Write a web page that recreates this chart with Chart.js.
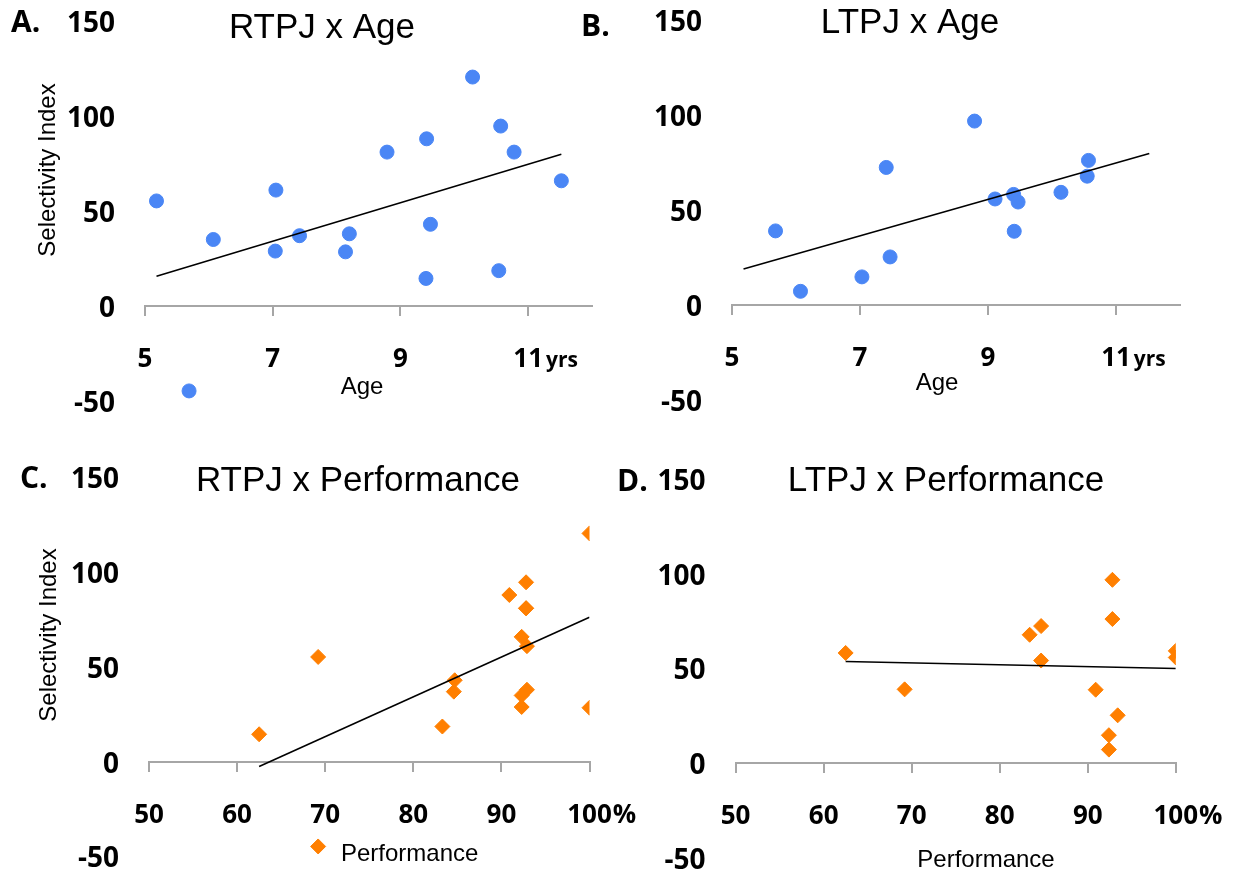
<!DOCTYPE html>
<html>
<head>
<meta charset="utf-8">
<title>TPJ selectivity by age and performance</title>
<script src="https://cdn.jsdelivr.net/npm/chart.js@4.4.1/dist/chart.umd.min.js"></script>
<style>
  html, body { margin: 0; background: #fff; }
  #wrap { position: relative; width: 1235px; height: 879px; overflow: hidden; }
  #wrap canvas { position: absolute; left: 0; top: 0; pointer-events: none; }
</style>
</head>
<body>
<div id="wrap">
  <canvas id="panel-a" width="1235" height="879"></canvas>
  <canvas id="panel-b" width="1235" height="879"></canvas>
  <canvas id="panel-c" width="1235" height="879"></canvas>
  <canvas id="panel-d" width="1235" height="879"></canvas>
</div>
<script>
// Right TPJ: one entry per child (age in years, task performance in %, selectivity index)
const rtpjAge  = [5.18, 6.07, 7.05, 7.04, 7.42, 8.20, 8.14, 8.79, 9.41, 9.47, 9.40, 10.13, 10.57, 10.78, 10.54, 11.52, 5.69];
const rtpjPerf = [69.2, 92.3, 92.9, 92.3, 84.6, 92.9, 100, 92.8, 90.9, 84.7, 62.5, 100, 92.8, 92.8, 83.3, 92.3, 69.2];
const rtpjSI   = [55.3, 35.0, 61.0, 28.9, 37.0, 38.0, 28.5, 81.0, 88.0, 43.0, 14.5, 120.5, 94.7, 81.0, 18.6, 65.9, -44.7];

// Left TPJ
const ltpjAge  = [5.68, 6.07, 7.03, 7.47, 7.41, 8.79, 9.11, 9.40, 9.47, 9.41, 10.14, 10.55, 10.57];
const ltpjPerf = [69.2, 92.4, 92.4, 93.4, 84.7, 92.8, 100, 62.5, 84.7, 90.9, 100, 83.4, 92.8];
const ltpjSI   = [39.0, 7.2, 14.8, 25.3, 72.4, 96.8, 55.8, 58.2, 54.2, 38.8, 59.3, 67.8, 76.1];

// axis ticks
const ageTicks  = [5, 7, 9, 11];
const perfTicks = [50, 60, 70, 80, 90, 100];
const siTicks   = [-50, 0, 50, 100, 150];

const BLUE = '#4a86f5';
const ORANGE = '#ff7f00';
const AXIS_GREY = '#a6a6a6';
const NUM_FONT = '"Open Sans", "Liberation Sans", sans-serif';
const TXT_FONT = '"Liberation Sans", Arial, sans-serif';

/**
 * Ordinary least squares fit, returns f(x).
 */
function linearFit(xs, ys) {
  const n = xs.length;
  const mx = xs.reduce((a, b) => a + b, 0) / n;
  const my = ys.reduce((a, b) => a + b, 0) / n;
  let sxy = 0, sxx = 0;
  for (let i = 0; i < n; i++) {
    sxy += (xs[i] - mx) * (ys[i] - my);
    sxx += (xs[i] - mx) * (xs[i] - mx);
  }
  const slope = sxy / sxx;
  return x => my + slope * (x - mx);
}

function toPoints(xs, ys) {
  return xs.map((x, i) => ({ x, y: ys[i] }));
}

// trend lines span the full range of x values across both hemispheres
const ageSpan  = [Math.min(...rtpjAge, ...ltpjAge), Math.max(...rtpjAge, ...ltpjAge)];
const perfSpan = [Math.min(...rtpjPerf, ...ltpjPerf), Math.max(...rtpjPerf, ...ltpjPerf)];

const panels = [
  {
    id: 'panel-a', letter: 'A.', title: 'RTPJ x Age', xs: rtpjAge, ys: rtpjSI, span: ageSpan,
    xTicks: ageTicks, xMin: 5, xMax: 12, suffix: 'yrs', color: BLUE, style: 'circle',
    area: { left: 145, right: 592, top: 21, bottom: 401 },
    letterPos: [11, 32], titlePos: [322, 38], yTitle: [48, 170], xTitle: { text: 'Age', x: 362, y: 394, align: 'center' }
  },
  {
    id: 'panel-b', letter: 'B.', title: 'LTPJ x Age', xs: ltpjAge, ys: ltpjSI, span: ageSpan,
    xTicks: ageTicks, xMin: 5, xMax: 12, suffix: 'yrs', color: BLUE, style: 'circle',
    area: { left: 732, right: 1180, top: 20, bottom: 400 },
    letterPos: [581, 36], titlePos: [910, 33], yTitle: null, xTitle: { text: 'Age', x: 937, y: 390, align: 'center' }
  },
  {
    id: 'panel-c', letter: 'C.', title: 'RTPJ x Performance', xs: rtpjPerf, ys: rtpjSI, span: perfSpan,
    xTicks: perfTicks, xMin: 50, xMax: 100, suffix: '%', color: ORANGE, style: 'rectRot',
    area: { left: 149, right: 589.5, top: 477.5, bottom: 856.5 },
    letterPos: [20, 488], titlePos: [358, 491], yTitle: [49, 635], xTitle: { text: 'Performance', x: 341, y: 861, align: 'left' }
  },
  {
    id: 'panel-d', letter: 'D.', title: 'LTPJ x Performance', xs: ltpjPerf, ys: ltpjSI, span: perfSpan,
    xTicks: perfTicks, xMin: 50, xMax: 100, suffix: '%', color: ORANGE, style: 'rectRot',
    area: { left: 735.6, right: 1175.8, top: 479, bottom: 858 },
    letterPos: [617, 491], titlePos: [946, 491], yTitle: null, xTitle: { text: 'Performance', x: 986, y: 867, align: 'center' }
  }
];

const Y_SCALE_WIDTH = 80;

/**
 * Draws titles, panel letter and the x tick labels sitting below the zero line.
 */
const panelText = {
  id: 'panelText',
  afterDraw(chart, args, opts) {
    const p = opts.panel;
    const ctx = chart.ctx;
    const sx = chart.scales.x, sy = chart.scales.y;
    ctx.save();
    ctx.fillStyle = '#000';

    // panel letter
    ctx.font = `bold 30px ${NUM_FONT}`;
    ctx.textAlign = 'left';
    ctx.textBaseline = 'alphabetic';
    ctx.fillText(p.letter, p.letterPos[0], p.letterPos[1]);

    // title
    ctx.font = `35px ${TXT_FONT}`;
    ctx.textAlign = 'center';
    ctx.fillText(p.title, p.titlePos[0], p.titlePos[1]);

    // x tick labels
    const base = sy.getPixelForValue(0) + 61;
    sx.ticks.forEach((t, i) => {
      const px = sx.getPixelForValue(t.value);
      const label = String(t.value);
      ctx.font = `bold 26px ${NUM_FONT}`;
      ctx.textAlign = 'center';
      ctx.fillText(label, px, base);
      if (i === sx.ticks.length - 1) {
        const w = ctx.measureText(label).width;
        ctx.textAlign = 'left';
        if (p.suffix === 'yrs') {
          ctx.font = `bold 21px ${NUM_FONT}`;
          ctx.fillText(p.suffix, px + w / 2 + 3, base);
        } else {
          ctx.fillText(p.suffix, px + w / 2 + 1, base);
        }
      }
    });

    // axis titles
    ctx.font = `24px ${TXT_FONT}`;
    ctx.textAlign = p.xTitle.align;
    ctx.fillText(p.xTitle.text, p.xTitle.x, p.xTitle.y);

    if (p.yTitle) {
      ctx.translate(p.yTitle[0], p.yTitle[1]);
      ctx.rotate(-Math.PI / 2);
      ctx.textAlign = 'center';
      ctx.textBaseline = 'middle';
      ctx.fillText('Selectivity Index', 0, 0);
    }
    ctx.restore();
  }
};

panels.forEach(p => {
  const fit = linearFit(p.xs, p.ys);
  const trend = p.span.map(x => ({ x, y: fit(x) }));

  new Chart(document.getElementById(p.id).getContext('2d'), {
    type: 'scatter',
    data: {
      datasets: [
        {
          type: 'line',
          label: 'Linear',
          data: trend,
          borderColor: '#000',
          borderWidth: 1.6,
          pointRadius: 0,
          fill: false,
          order: 0
        },
        {
          label: 'Performance',
          data: toPoints(p.xs, p.ys),
          pointStyle: p.style,
          pointRadius: p.style === 'circle' ? 7 : 7.5,
          backgroundColor: p.color,
          borderColor: p.color,
          borderWidth: 1,
          order: 1
        }
      ]
    },
    options: {
      responsive: false,
      animation: false,
      layout: {
        padding: {
          left: p.area.left - Y_SCALE_WIDTH,
          right: 1235 - p.area.right,
          top: p.area.top,
          bottom: 879 - p.area.bottom
        }
      },
      plugins: {
        legend: { display: false },
        tooltip: { enabled: false },
        panelText: { panel: p }
      },
      scales: {
        x: {
          type: 'linear',
          position: { y: 0 },
          min: p.xMin,
          max: p.xMax,
          afterBuildTicks: s => { s.ticks = p.xTicks.map(v => ({ value: v })); },
          afterFit: s => { s.height = 0; s.paddingLeft = 0; s.paddingRight = 0; s.paddingTop = 0; s.paddingBottom = 0; },
          ticks: { display: false },
          grid: { display: true, drawOnChartArea: false, drawTicks: true, tickLength: 9, color: AXIS_GREY, lineWidth: 2 },
          border: { display: true, color: AXIS_GREY, width: 2 }
        },
        y: {
          type: 'linear',
          min: siTicks[0],
          max: siTicks[siTicks.length - 1],
          afterBuildTicks: s => { s.ticks = siTicks.map(v => ({ value: v })); },
          afterFit: s => { s.width = Y_SCALE_WIDTH; s.paddingTop = 0; s.paddingBottom = 0; },
          ticks: { color: '#000', padding: 30, labelOffset: 3, font: { family: NUM_FONT, size: 28, weight: 'bold' } },
          grid: { display: false, drawTicks: false },
          border: { display: false }
        }
      }
    },
    plugins: [panelText]
  });
});
</script>
</body>
</html>
